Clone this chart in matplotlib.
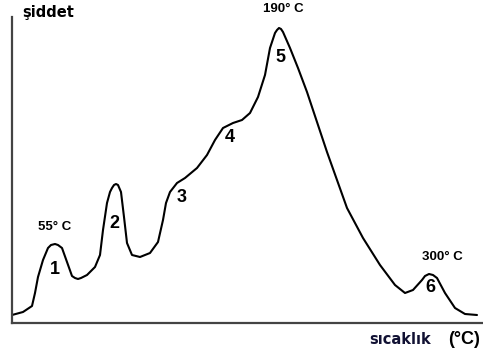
import numpy as np
import matplotlib
matplotlib.use("Agg")
import matplotlib.pyplot as plt

# glow curve (arbitrary temperature / intensity units)
temp = [0, 11, 20, 23, 26, 31, 36, 39, 43, 46, 50, 55, 60, 63, 66, 69, 75, 83,
        88, 91, 95, 98, 100, 102, 104, 106, 109, 112, 115, 120, 128, 138, 146,
        151, 154, 158, 165, 173, 185, 195, 203, 211, 221, 230, 238, 246, 253,
        258, 263, 265, 267, 269, 271, 278, 286, 295, 305, 315, 325, 335, 351,
        368, 383, 393, 401, 410, 413, 417, 421, 425, 433, 443, 453, 465]
intensity = [8, 11, 17, 30, 46, 63, 75, 78, 79, 78, 75, 61, 47, 45, 44, 45, 48,
             56, 68, 93, 120, 131, 135, 138, 139, 138, 131, 106, 80, 68, 66,
             70, 81, 103, 120, 131, 140, 145, 155, 168, 183, 195, 200, 203,
             210, 226, 248, 275, 290, 293, 295, 294, 291, 275, 255, 231, 201,
             171, 143, 115, 85, 58, 38, 30, 33, 43, 47, 49, 48, 45, 30, 15, 9, 8]

peak_names = ["1", "2", "3", "4", "5", "6"]
peak_x = [43, 102, 170, 218, 268, 418]
peak_y = [54, 100, 126, 186, 266, 35]

temp_labels = ["55° C", "190° C", "300° C"]
temp_x = [43, 271, 430]
temp_y = [96, 314, 66]

fig = plt.figure(figsize=(4.83, 3.62), dpi=100)
ax = fig.add_axes([12 / 483, 39 / 362, 471 / 483, 306 / 362])
ax.plot(temp, intensity, color="black", lw=1.5, solid_joinstyle="round",
        solid_capstyle="round")
ax.set_xlim(0, 471)
ax.set_ylim(0, 306)
ax.set_xticks([])
ax.set_yticks([])
for s in ["top", "right"]:
    ax.spines[s].set_visible(False)
for s in ["left", "bottom"]:
    ax.spines[s].set_color("#444444")
    ax.spines[s].set_linewidth(1.6)

for name, x, y in zip(peak_names, peak_x, peak_y):
    ax.text(x, y, name, ha="center", va="center", fontsize=13,
            fontweight="bold", family="Liberation Sans")
for lab, x, y in zip(temp_labels, temp_x, temp_y):
    ax.text(x, y, lab, ha="center", va="center", fontsize=9.5,
            fontweight="bold", family="Liberation Sans", clip_on=False)

fig.text(22 / 483, 1 - 12 / 362, "şiddet", ha="left", va="center",
         fontsize=10.5, fontweight="bold", family="DejaVu Sans")
fig.text(369 / 483, 1 - 340 / 362, "sıcaklık", ha="left", va="center",
         fontsize=10.5, fontweight="bold", family="DejaVu Sans", color="#111133")
fig.text(448 / 483, 1 - 339 / 362, "(°C)", ha="left", va="center",
         fontsize=13, fontweight="bold", family="Liberation Sans")

fig.savefig("out.png", dpi=100)
